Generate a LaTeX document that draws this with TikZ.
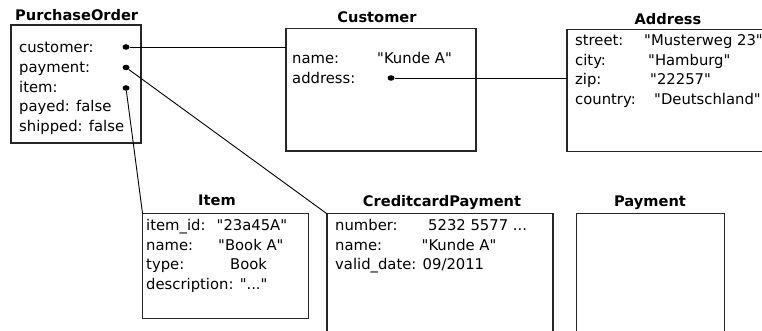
\documentclass[tikz,border=0pt]{standalone}
\usepackage{fontspec}
\setmainfont{DejaVu Sans}
\usetikzlibrary{shapes.geometric}
\newcommand{\dq}[1]{\textquotedbl#1\textquotedbl}
\begin{document}
\begin{tikzpicture}[x=1pt,y=-1pt,
  box/.style={draw=black!85, line width=1.2pt, rectangle, inner sep=0pt, outer sep=0pt, anchor=north west},
  title/.style={anchor=base, font=\fontsize{14.6}{16}\selectfont\bfseries, inner sep=0pt},
  field/.style={anchor=base west, font=\fontsize{14.8}{17}\selectfont, inner sep=0pt},
  dot/.style={ellipse, fill=black, inner sep=0pt, minimum width=7pt, minimum height=5.5pt},
  link/.style={draw=black, line width=0.9pt}]
\useasboundingbox (0,0) rectangle (762,331);
\clip (0,0) rectangle (762,331);

% object boxes
\node[box, minimum width=130, minimum height=118]   (po)  at (11,25)    {};
\node[box, minimum width=190, minimum height=122.5] (cu)  at (286,28.5) {};
\node[box, minimum width=220, minimum height=122]   (ad)  at (567,29.8) {};
\node[box, minimum width=166, minimum height=105]   (it)  at (142.5,213.3) {};
\node[box, minimum width=226, minimum height=140]   (cc)  at (327,213.8) {};
\node[box, minimum width=148, minimum height=140]   (pay) at (576.5,213.8) {};

% class names
\node[title] (poT)  at (76.7,20.7) {PurchaseOrder};
\node[title] (cuT)  at (377,22.7)  {Customer};
\node[title] (adT)  at (668,25)    {Address};
\node[title] (itT)  at (217,205)   {Item};
\node[title] (ccT)  at (442,206)   {CreditcardPayment};
\node[title] (payT) at (650,206)   {Payment};

% PurchaseOrder attributes
\node[field] (po1) at (19,53)    {customer:};
\node[field] (po2) at (19,72.5)  {payment:};
\node[field] (po3) at (19,92.5)  {item:};
\node[field] (po4) at (19,112)   {payed: false};
\node[field] (po5) at (19,131.5) {shipped: false};
\node[dot] (poCust) at (126,47)   {};
\node[dot] (poPay)  at (126,67.5) {};
\node[dot] (poItem) at (126,88)   {};

% Customer attributes
\node[field] (cu1)  at (292,64)   {name:};
\node[field] (cu1v) at (377,64)   {\dq{Kunde A}};
\node[field] (cu2)  at (292,83.5) {address:};
\node[dot] (cuAddr) at (391,78) {};

% Address attributes
\node[field] (ad1)  at (575,45.5)  {street:};
\node[field] (ad1v) at (644,45.5)  {\dq{Musterweg 23}};
\node[field] (ad2)  at (575,65.5)  {city:};
\node[field] (ad2v) at (648,65.5)  {\dq{Hamburg}};
\node[field] (ad3)  at (575,85)    {zip:};
\node[field] (ad3v) at (650,85)    {\dq{22257}};
\node[field] (ad4)  at (575,104.5) {country:};
\node[field] (ad4v) at (654,104.5) {\dq{Deutschland}};

% Item attributes
\node[field] (it1)  at (146,230.5) {item\_id:};
\node[field] (it1v) at (216.5,230.5) {\dq{23a45A}};
\node[field] (it2)  at (146,250)   {name:};
\node[field] (it2v) at (218,250)   {\dq{Book A}};
\node[field] (it3)  at (146,269.5) {type:};
\node[field] (it3v) at (230,269.5) {Book};
\node[field] (it4)  at (146,289)   {description: \dq{...}};

% CreditcardPayment attributes
\node[field] (cc1)  at (335,230.5) {number:};
\node[field] (cc1v) at (428,230.5) {5232 5577 ...};
\node[field] (cc2)  at (335,250)   {name:};
\node[field] (cc2v) at (421.5,250) {\dq{Kunde A}};
\node[field] (cc3)  at (335,269.5) {valid\_date: 09/2011};

% references
\draw[link] (poCust) -- (poCust -| cu.west);
\draw[link] (poPay)  -- (cc.north west);
\draw[link] (poItem) -- (it.north west);
\draw[link] (cuAddr) -- (cuAddr -| ad.west);
\end{tikzpicture}
\end{document}
